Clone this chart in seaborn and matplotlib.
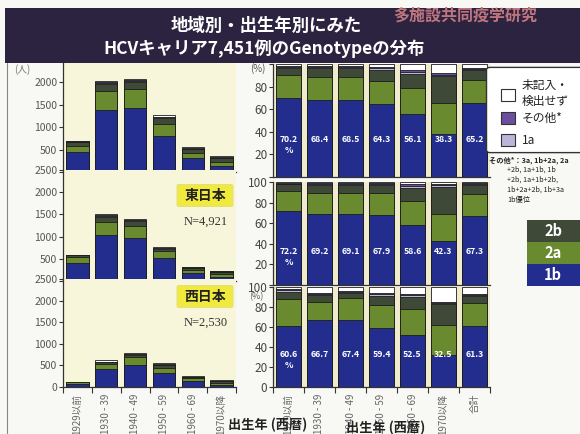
import numpy as np
import matplotlib
matplotlib.use("Agg")
import matplotlib.pyplot as plt
import seaborn as sns
from matplotlib.patches import Rectangle, FancyBboxPatch

sns.set_theme(style="white")
plt.rcParams['font.family'] = ['Noto Sans CJK JP', 'DejaVu Sans']

# ---------------- data ----------------
cohorts = ["1929以前", "1930 - 39", "1940 - 49", "1950 - 59", "1960 - 69", "1970以降"]
cohorts_total = cohorts + ["合計"]
genotypes = ["1b", "2a", "2b", "1a", "その他*", "未記入・検出せず"]

# counts (persons) - whole country
all_1b = [456, 1389, 1427, 807, 306, 134]
all_2a = [127, 426, 433, 261, 127, 98]
all_2b = [80, 140, 150, 130, 75, 82]
all_1a = [12, 30, 28, 20, 10, 8]
all_oth = [10, 24, 22, 16, 10, 10]
all_unk = [10, 30, 24, 28, 25, 34]
# East Japan
east_1b = [410, 1030, 960, 515, 185, 93]
east_2a = [130, 310, 285, 160, 72, 57]
east_2b = [40, 110, 100, 55, 40, 55]
east_1a = [5, 20, 18, 9, 5, 4]
east_oth = [3, 16, 14, 8, 6, 5]
east_unk = [3, 20, 23, 10, 7, 7]
# West Japan
west_1b = [75, 410, 520, 323, 133, 52]
west_2a = [33, 115, 165, 123, 64, 47]
west_2b = [9, 45, 60, 60, 38, 37]
west_1a = [2, 10, 8, 8, 3, 2]
west_oth = [2, 10, 8, 8, 3, 3]
west_unk = [2, 25, 15, 22, 12, 20]

# percentages - whole country
p_all_1b = [70.2, 68.4, 68.5, 64.3, 56.1, 38.3, 65.2]
p_all_2a = [20.1, 20.4, 20.3, 21.0, 22.4, 27.2, 20.6]
p_all_2b = [6.3, 7.5, 7.6, 9.5, 13.0, 24.0, 9.0]
p_all_1a = [0.8, 1.1, 1.1, 1.3, 1.6, 1.2, 1.1]
p_all_oth = [0.7, 0.8, 0.8, 1.0, 1.6, 1.3, 0.9]
p_all_unk = [1.9, 1.8, 1.7, 2.9, 5.3, 8.0, 3.2]
# East
p_east_1b = [72.2, 69.2, 69.1, 67.9, 58.6, 42.3, 67.3]
p_east_2a = [19.0, 20.0, 20.0, 21.1, 22.8, 26.3, 21.3]
p_east_2b = [6.5, 8.0, 8.1, 8.0, 13.0, 27.0, 8.3]
p_east_1a = [0.8, 1.0, 1.0, 1.0, 1.5, 1.4, 1.1]
p_east_oth = [0.6, 0.8, 0.8, 0.8, 2.5, 1.5, 0.9]
p_east_unk = [0.9, 1.0, 1.0, 1.2, 1.6, 1.5, 1.1]
# West
p_west_1b = [60.6, 66.7, 67.4, 59.4, 52.5, 32.5, 61.3]
p_west_2a = [27.1, 18.6, 21.3, 22.6, 25.5, 29.5, 22.4]
p_west_2b = [7.5, 6.5, 5.5, 9.5, 12.5, 20.8, 7.5]
p_west_1a = [1.4, 1.3, 1.0, 1.1, 1.3, 1.2, 1.1]
p_west_oth = [1.4, 1.2, 1.1, 1.1, 1.2, 1.3, 1.0]
p_west_unk = [2.0, 5.7, 3.7, 6.3, 7.0, 14.7, 6.7]

# ---------------- style ----------------
COLORS = ["#232d8e", "#6a8a30", "#3e4937", "#bab6da", "#6b4f9e", "#ffffff"]
EDGE = "#1c1c1c"
W, H = 580, 434

fig = plt.figure(figsize=(5.8, 4.34), dpi=100)
fig.patch.set_facecolor("#f8f8f5")


def box(x0, y0, x1, y1):
    return [x0 / W, 1 - y1 / H, (x1 - x0) / W, (y1 - y0) / H]


def fx(x):
    return x / W


def fy(y):
    return 1 - y / H


def stacked(ax, cats, layers, width):
    cum = np.cumsum(np.array(layers, dtype=float), axis=0)
    for i in range(len(layers) - 1, -1, -1):
        sns.barplot(x=cats, y=cum[i], order=cats, color=COLORS[i], saturation=1,
                    width=width, edgecolor=EDGE, linewidth=0.6, ax=ax, errorbar=None)
    ax.set_xlim(-0.5, len(cats) - 0.5)
    ax.set_xlabel("")
    ax.set_ylabel("")
    ax.set_xticks(np.arange(-0.5, len(cats), 1), minor=True)
    for s in ["top", "right"]:
        ax.spines[s].set_visible(False)
    for s in ["left", "bottom"]:
        ax.spines[s].set_color("#333333")
        ax.spines[s].set_linewidth(0.9)


def count_panel(ax, layers, show_x, hide_labels):
    ax.set_facecolor("#f7f5da")
    stacked(ax, cohorts, layers, 0.78)
    ax.set_ylim(0, 2500)
    ax.set_yticks([0, 500, 1000, 1500, 2000, 2500])
    labs = ["0", "500", "1000", "1500", "2000", "2500"]
    labs = ["" if l in hide_labels else l for l in labs]
    ax.set_yticklabels(labs)
    ax.tick_params(axis="y", direction="out", length=3, width=0.8, pad=1,
                   labelsize=7.5, labelcolor="#555555", left=True, color="#333333")
    if show_x:
        ax.set_xticks(range(len(cohorts)))
        ax.set_xticklabels(cohorts, rotation=90, fontsize=7, color="#666666")
        ax.tick_params(axis="x", which="major", length=0, pad=5)
        ax.tick_params(axis="x", which="minor", length=4, width=0.8, bottom=True,
                       direction="out", color="#333333")
    else:
        ax.set_xticks([])
        ax.tick_params(axis="x", which="minor", length=0)


def pct_panel(ax, layers, show_x, hide_labels):
    ax.set_facecolor("#f0ebcd")
    stacked(ax, cohorts_total, layers, 0.78)
    ax.set_ylim(0, 100)
    ax.set_yticks([0, 20, 40, 60, 80, 100])
    labs = ["0", "20", "40", "60", "80", "100"]
    labs = ["" if l in hide_labels else l for l in labs]
    ax.set_yticklabels(labs)
    ax.tick_params(axis="y", direction="out", length=3, width=0.8, pad=1,
                   labelsize=8.5, labelcolor="#444444", left=True, color="#333333")
    for i, v in enumerate(layers[0]):
        txt = f"{v:.1f}" + ("\n%" if i == 0 else "")
        ax.text(i, 37, txt, ha="center", va="top", color="white",
                fontsize=6.3, fontweight="bold", linespacing=1.3)
    if show_x:
        ax.set_xticks(range(len(cohorts_total)))
        ax.set_xticklabels(cohorts_total, rotation=90, fontsize=7, color="#666666")
        ax.tick_params(axis="x", which="major", length=0, pad=5)
        ax.tick_params(axis="x", which="minor", length=4, width=0.8, bottom=True,
                       direction="out", color="#333333")
    else:
        ax.set_xticks([])
        ax.tick_params(axis="x", which="minor", length=0)


# left count panels
ax1 = fig.add_axes(box(63, 60, 236, 172))
count_panel(ax1, [all_1b, all_2a, all_2b, all_1a, all_oth, all_unk], False, ["0", "2500"])
ax2 = fig.add_axes(box(63, 170, 236, 281))
count_panel(ax2, [east_1b, east_2a, east_2b, east_1a, east_oth, east_unk], False, ["0"])
ax3 = fig.add_axes(box(63, 279, 236, 387))
count_panel(ax3, [west_1b, west_2a, west_2b, west_1a, west_oth, west_unk], True, [])

# right percentage panels
bx1 = fig.add_axes(box(273, 64, 490, 177))
pct_panel(bx1, [p_all_1b, p_all_2a, p_all_2b, p_all_1a, p_all_oth, p_all_unk], False, ["0", "100"])
bx2 = fig.add_axes(box(273, 182, 490, 285))
pct_panel(bx2, [p_east_1b, p_east_2a, p_east_2b, p_east_1a, p_east_oth, p_east_unk], False, ["0"])
bx3 = fig.add_axes(box(273, 287, 490, 387))
pct_panel(bx3, [p_west_1b, p_west_2a, p_west_2b, p_west_1a, p_west_oth, p_west_unk], True, [])

# ---------------- banner / title ----------------
fig.add_artist(Rectangle((fx(5), fy(63)), fx(575), 55 / H, transform=fig.transFigure,
                         facecolor="#2c2340", edgecolor="none", zorder=5))
fig.text(fx(266), fy(26), "地域別・出生年別にみた", color="white", fontsize=12.5,
         fontweight="bold", ha="center", va="center", zorder=6)
fig.text(fx(264), fy(49), "HCVキャリア7,451例のGenotypeの分布", color="white",
         fontsize=12.5, fontweight="bold", ha="center", va="center", zorder=6)
fig.text(fx(393), fy(16), "多施設共同疫学研究", color="#c0757d", fontsize=11.5,
         fontweight="bold", ha="left", va="center", zorder=6)

# left border line
fig.add_artist(plt.Line2D([fx(7), fx(7)], [fy(63), fy(434)], transform=fig.transFigure,
                          color="#888888", lw=0.8, zorder=1))

# units
fig.text(fx(22), fy(70), "(人)", fontsize=7, color="#777777", ha="center", va="center", zorder=4)
fig.text(fx(258), fy(69), "(%)", fontsize=7, color="#555555", ha="center", va="center", zorder=4)
fig.text(fx(256), fy(297), "(%)", fontsize=6.5, color="#555555", ha="center", va="center", zorder=4)

# region labels
for (yb, name, n) in [(186, "東日本", "N=4,921"), (287, "西日本", "N=2,530")]:
    fig.add_artist(FancyBboxPatch((fx(179), fy(yb + 19)), 52 / W, 19 / H,
                                  boxstyle="round,pad=0.003", transform=fig.transFigure,
                                  facecolor="#f0ea3c", edgecolor="#e8e070", lw=1, zorder=6))
    fig.text(fx(205), fy(yb + 9.5), name, fontsize=10, fontweight="bold", color="#222222",
             ha="center", va="center", zorder=7)
    fig.text(fx(206), fy(yb + 36), n, fontsize=9, color="#333333", ha="center", va="center",
             family=["Liberation Serif"], zorder=7)

# legend box
fig.add_artist(FancyBboxPatch((fx(490), fy(150)), 95 / W, 80 / H,
                              boxstyle="round,pad=0.006", transform=fig.transFigure,
                              facecolor="white", edgecolor="#333333", lw=1, zorder=6))
for (yc, col) in [(95, "#ffffff"), (118, COLORS[4]), (140, COLORS[3])]:
    fig.add_artist(Rectangle((fx(501), fy(yc + 6)), 14 / W, 12 / H, transform=fig.transFigure,
                             facecolor=col, edgecolor="#333333", lw=0.8, zorder=7))
fig.text(fx(522), fy(85), "未記入・", fontsize=8.5, color="#222222", ha="left", va="center", zorder=7)
fig.text(fx(522), fy(101), "検出せず", fontsize=8.5, color="#222222", ha="left", va="center", zorder=7)
fig.text(fx(522), fy(118), "その他*", fontsize=8.5, color="#222222", ha="left", va="center", zorder=7)
fig.text(fx(522), fy(140), "1a", fontsize=8.5, color="#222222", ha="left", va="center", zorder=7)

notes = ["その他*：3a, 1b+2a, 2a", "+2b, 1a+1b, 1b", "+2b, 1a+1b+2b,",
         "1b+2a+2b, 1b+3a", "1b優位"]
for k, line in enumerate(notes):
    fig.text(fx(489 if k == 0 else 507), fy(160 + 10 * k), line, fontsize=5.2,
             color="#222222", ha="left", va="center", zorder=7,
             fontweight="bold" if k == 0 else "normal")

# genotype colour boxes
for (y0, col, lab) in [(220, COLORS[2], "2b"), (242, COLORS[1], "2a"), (264, COLORS[0], "1b")]:
    fig.add_artist(Rectangle((fx(527), fy(y0 + 22)), 53 / W, 22 / H, transform=fig.transFigure,
                             facecolor=col, edgecolor="none", zorder=6))
    fig.text(fx(553), fy(y0 + 11), lab, fontsize=10.5, fontweight="bold", color="white",
             ha="center", va="center", zorder=7)

# axis titles
fig.text(fx(268), fy(425), "出生年 (西暦)", fontsize=9.5, fontweight="bold", color="#222222",
         ha="center", va="center", zorder=7)
fig.text(fx(386), fy(428), "出生年 (西暦)", fontsize=9.5, fontweight="bold", color="#222222",
         ha="center", va="center", zorder=7)

fig.savefig("out.png", dpi=100, facecolor=fig.get_facecolor())
